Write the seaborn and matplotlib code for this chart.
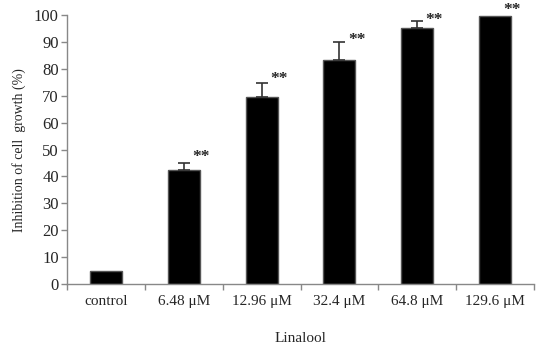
import numpy as np
import pandas as pd
import matplotlib
matplotlib.use("Agg")
import matplotlib.pyplot as plt
import seaborn as sns

# values
groups = ["control", "6.48 \u03bcM", "12.96 \u03bcM", "32.4 \u03bcM", "64.8 \u03bcM", "129.6 \u03bcM"]
inhibition = [4.8, 42.4, 69.6, 83.5, 95.3, 99.8]
sd_upper = [0.0, 2.5, 5.2, 6.5, 2.6, 0.0]
signif = ["", "**", "**", "**", "**", "**"]
star_level = [0, 48, 77, 91.5, 99, 102.8]  # where the ** marks sit

df = pd.DataFrame({"group": groups, "inhibition": inhibition})

sns.set_style("white")
plt.rcParams["font.family"] = ["Liberation Serif", "DejaVu Serif"]

fig = plt.figure(figsize=(5.41, 3.52), dpi=100)
ax = fig.add_axes([0.124, 0.193, 0.863, 0.764])

sns.barplot(data=df, x="group", y="inhibition", color="black", width=0.41,
            edgecolor="#555555", linewidth=1.0, saturation=1, ax=ax)

# upper error bars only, where there is an error
x = np.arange(len(groups))
has_err = np.array(sd_upper) > 0
ax.errorbar(x[has_err], np.array(inhibition)[has_err],
            yerr=[np.zeros(has_err.sum()), np.array(sd_upper)[has_err]], fmt="none",
            ecolor="#333333", elinewidth=1.2, capsize=4, capthick=1.2)

for i, s in enumerate(signif):
    if s:
        ax.text(i + 0.22, star_level[i] - 2.3, s, fontsize=12.5,
                fontweight="bold", ha="center", va="baseline", clip_on=False)

ax.set_xlim(-0.5, len(groups) - 0.5)
ax.set_ylim(0, 100)
ax.set_yticks(range(0, 101, 10))
ax.set_xticks(np.arange(-0.5, len(groups), 1.0), minor=True)
ax.tick_params(axis="x", which="major", length=0, pad=8, labelsize=11)
ax.tick_params(axis="x", which="minor", length=4, width=1, color="#888888", direction="out", bottom=True)
ax.tick_params(axis="y", length=4, width=1, color="#888888", direction="out", left=True, labelsize=12, pad=2)

for side in ["top", "right"]:
    ax.spines[side].set_visible(False)
for side in ["left", "bottom"]:
    ax.spines[side].set_color("#888888")
    ax.spines[side].set_linewidth(1)

ax.set_xlabel("Linalool", fontsize=11, labelpad=17)
ax.set_ylabel("Inhibition of cell  growth (%)", fontsize=10, labelpad=6)

fig.savefig("out.png", dpi=100)
